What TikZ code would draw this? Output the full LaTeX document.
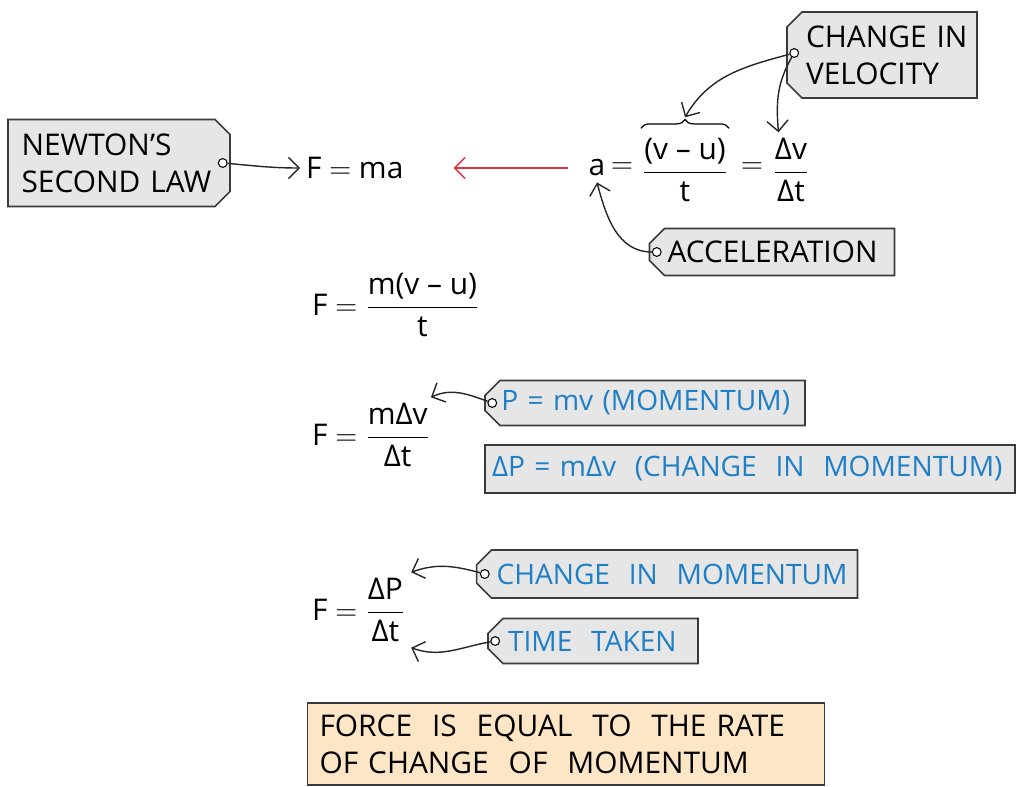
\documentclass[tikz,border=0pt]{standalone}
\usepackage{fontspec}
\setmainfont{Open Sans}
\usepackage{amsmath}
\usetikzlibrary{arrows.meta,shapes.misc,decorations.pathreplacing,positioning}

\definecolor{tagfill}{HTML}{E6E6E6}
\definecolor{tagline}{HTML}{3A3A3A}
\definecolor{noteblue}{HTML}{1E7FC6}
\definecolor{notered}{HTML}{E2323E}
\definecolor{notepeach}{HTML}{FDE6C6}

\tikzset{
  tagbox/.style={chamfered rectangle, chamfered rectangle xsep=5pt,
    chamfered rectangle corners={north west,south west},
    draw=tagline, fill=tagfill, line width=0.9pt, align=left, inner sep=0pt},
  plainbox/.style={rectangle, draw=tagline, line width=0.9pt, align=left, inner sep=0pt},
  hole/.style={circle, draw=black, fill=white, line width=0.6pt,
    inner sep=0pt, minimum size=5pt},
  conn/.style={-{Straight Barb[length=6pt,width=12pt]}, line width=0.8pt, black!85},
  back/.style={-{Straight Barb[length=6pt,width=12pt]}, line width=0.8pt, notered},
  blue/.style={text=noteblue, font=\fontsize{16}{20}\selectfont}
}

\begin{document}
\begin{tikzpicture}[x=0.02cm, y=-0.02cm, every node/.style={font=\fontsize{17}{21}\selectfont}]
    \useasboundingbox (0,0) rectangle (1017,787);

    % --- Newton's second law --------------------------------------------
    \node[tagbox, chamfered rectangle corners={north east,south east},
          minimum width=4.44cm, minimum height=1.74cm, text width=3.9cm] (newton) at (119,163)
      {\mbox{NEWTON’S}\\\mbox{SECOND LAW}};
    \node[hole] (newtonhole) at ([xshift=-0.16cm]newton.east) {};
    \node[anchor=west] (fma) at (300,168) {F $=$ ma};
    \draw[conn] (newtonhole) to[out=-5, in=180] (fma.west);

    % --- acceleration ------------------------------------------------------
    \node (asym) at (597,168) {a};
    \node (aeq1) at (622,168) {$=$};
    \node (avu) at (685,170) {$\dfrac{\text{(v – u)}}{\text{t}}$};
    \node (aeq2) at (752,168) {$=$};
    \node (adv) at (791,170) {$\dfrac{\text{Δv}}{\text{Δt}}$};
    \draw[back] ([xshift=-0.28cm]asym.west) -- ([xshift=0.88cm]fma.east);

    % brace over the numerator
    \draw[line width=0.7pt, decorate, decoration={brace, amplitude=5pt}]
      ([xshift=0.1cm, yshift=0.08cm]avu.north west)
      -- ([xshift=-0.1cm, yshift=0.08cm]avu.north east);
    \coordinate (bracetip) at ([yshift=0.3cm]avu.north);

    \node[tagbox, minimum width=3.8cm, minimum height=1.72cm, text width=3.04cm]
      (veltag) at (882,55) {\mbox{CHANGE~IN}\\\mbox{VELOCITY}};
    \node[hole] (velhole) at ([xshift=0.16cm, yshift=0.04cm]veltag.west) {};
    \draw[conn] (velhole) to[out=195, in=60] (bracetip);
    \draw[conn] (velhole) to[out=240, in=95] ([xshift=-0.25cm]adv.north);

    \node[tagbox, minimum width=4.9cm, minimum height=0.94cm, text width=4.18cm]
      (acctag) at (772,252) {\mbox{ACCELERATION}};
    \node[hole] (acchole) at ([xshift=0.16cm]acctag.west) {};
    \draw[conn] (acchole) to[out=180, in=-75] (asym.south);

    % --- force from change in velocity ------------------------------------
    \node[anchor=west] (fvu) at (306,305) {F $=\dfrac{\text{m(v – u)}}{\text{t}}$};

    \node[anchor=west] (fmdv) at (306,435) {F $=\dfrac{\text{mΔv}}{\text{Δt}}$};
    \node[tagbox, blue, minimum width=6.4cm, minimum height=0.9cm, text width=5.75cm]
      (ptag) at (645,403) {\mbox{P = mv (MOMENTUM)}};
    \node[hole] (phole) at ([xshift=0.16cm]ptag.west) {};
    \draw[conn] (phole) to[out=160, in=25] ([xshift=-0.1cm]fmdv.north east);

    \node[plainbox, fill=tagfill, blue, minimum width=10.6cm, minimum height=0.96cm,
          text width=10.32cm] (dptag) at (750,469)
      {\mbox{ΔP = mΔv~~(CHANGE~~IN~~MOMENTUM)}};

    % --- force as rate of change of momentum ---------------------------------
    \node[anchor=west] (fdp) at (306,610) {F $=\dfrac{\text{ΔP}}{\text{Δt}}$};
    \node[tagbox, blue, minimum width=7.62cm, minimum height=0.96cm, text width=6.82cm]
      (cmtag) at (667,574) {\mbox{CHANGE~~IN~~MOMENTUM}};
    \node[hole] (cmhole) at ([xshift=0.18cm]cmtag.west) {};
    \draw[conn] (cmhole) to[out=165, in=20] (fdp.north east);

    \node[tagbox, blue, minimum width=4.2cm, minimum height=0.9cm, text width=3.4cm]
      (tttag) at (593,641) {\mbox{TIME~~TAKEN}};
    \node[hole] (tthole) at ([xshift=0.16cm]tttag.west) {};
    \draw[conn] (tthole) to[out=190, in=-20] (fdp.south east);

    % --- summary ------------------------------------------------------------
    \node[plainbox, fill=notepeach, minimum width=10.34cm, minimum height=1.64cm,
          inner xsep=0.24cm, text width=9.86cm] (summary) at (566,744)
      {\mbox{FORCE~~IS~~EQUAL~~TO~~THE~RATE}\\\mbox{OF~CHANGE~~OF~~MOMENTUM}};
  \end{tikzpicture}
\end{document}
